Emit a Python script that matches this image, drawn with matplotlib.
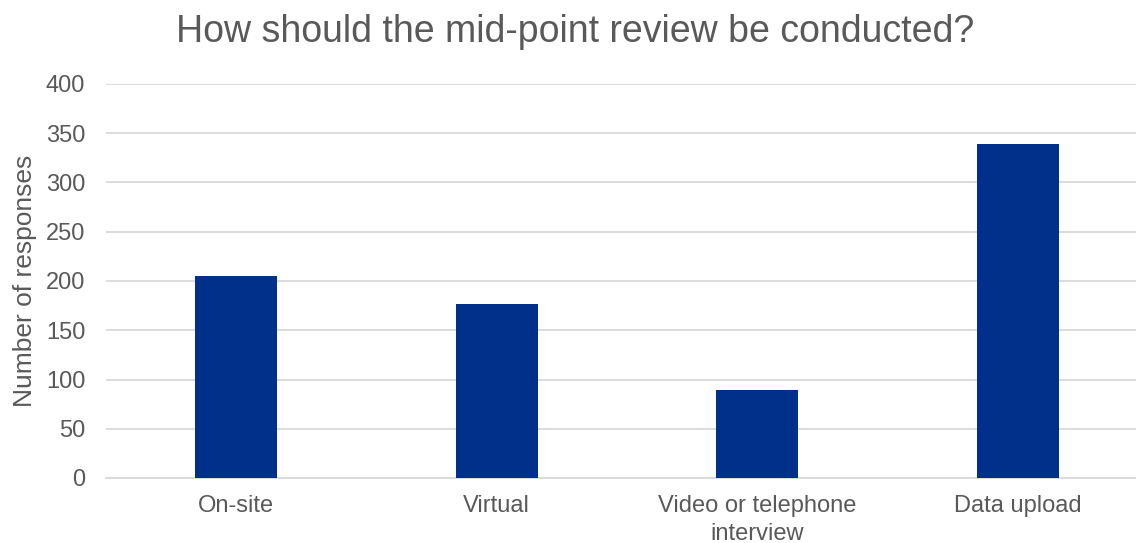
import matplotlib.pyplot as plt

categories = ["On-site", "Virtual", "Video or telephone\ninterview", "Data upload"]
responses = [205, 177, 89, 339]
yticks = [0, 50, 100, 150, 200, 250, 300, 350, 400]

plt.rcParams['font.family'] = ['Liberation Sans', 'DejaVu Sans']
grey = '#595959'

W, H = 1136, 543
fig = plt.figure(figsize=(W / 100, H / 100), dpi=100)
ax = fig.add_axes([106 / W, 1 - 478 / H, 1030 / W, 394 / H])

x = range(len(categories))
ax.bar(x, responses, width=0.315, color='#00308A', zorder=3)

ax.set_xlim(-0.5, 3.454)
ax.set_ylim(0, 400)
ax.set_yticks(yticks)
ax.yaxis.grid(True, color='#d9d9d9', linewidth=1.3, zorder=0)
ax.set_xticks(list(x))
ax.set_xticklabels(categories, fontsize=17, color=grey, linespacing=1.35)
ax.tick_params(axis='y', labelsize=17, labelcolor=grey, length=0, pad=15)
ax.tick_params(axis='x', length=0, pad=12)
for side in ['top', 'right', 'left']:
    ax.spines[side].set_visible(False)
ax.spines['bottom'].set_color('#d9d9d9')
ax.spines['bottom'].set_linewidth(1.3)

ax.set_ylabel("Number of responses", fontsize=19, color=grey, labelpad=6)
fig.text(575 / W, 1 - 32 / H, "How should the mid-point review be conducted?",
         fontsize=27, color=grey, ha='center', va='center')

fig.savefig('out.png', dpi=100)
